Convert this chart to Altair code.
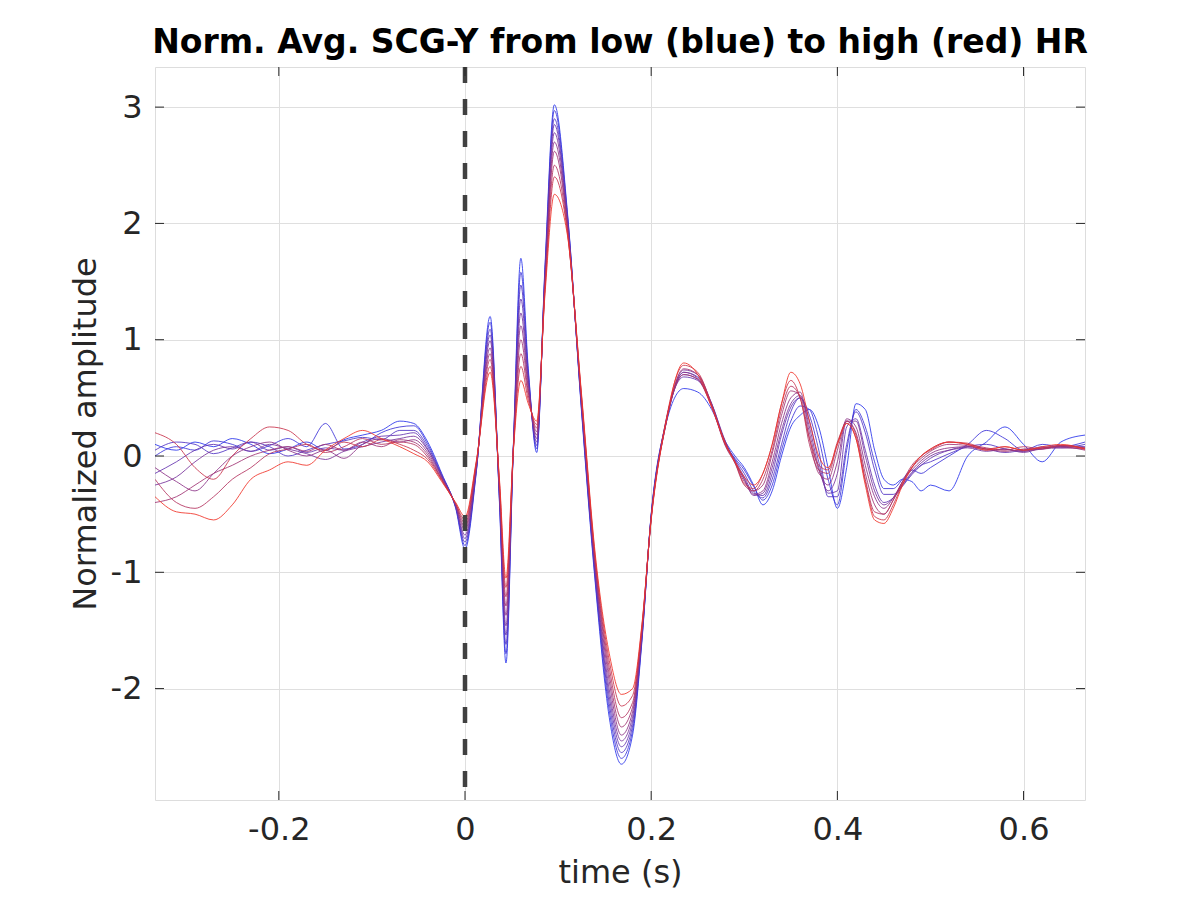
import altair as alt
import pandas as pd

# time grid (s)
T = [-0.333, -0.31, -0.29, -0.27, -0.25, -0.23, -0.21, -0.19, -0.17, -0.15, -0.13, -0.11, -0.09, -0.07, -0.055,
     -0.04, -0.025, -0.01, 0.0, 0.012, 0.027, 0.037, 0.044, 0.052, 0.060, 0.068, 0.077, 0.086, 0.096, 0.11,
     0.125, 0.14, 0.155, 0.168, 0.18, 0.19, 0.2, 0.215, 0.235, 0.25, 0.265, 0.28,
     0.29, 0.30, 0.31, 0.32, 0.33, 0.34, 0.35, 0.36, 0.37, 0.38, 0.39, 0.40, 0.41, 0.42, 0.43, 0.44, 0.45,
     0.46, 0.47, 0.48, 0.49, 0.50,
     0.52, 0.54, 0.56, 0.58, 0.60, 0.62, 0.64, 0.666]

# normalized averaged SCG-Y, from low HR (blue) to high HR (red)
line_00 = [0.10, 0.05, 0.12, 0.08, 0.15, 0.10, 0.02, 0.06, 0.12, 0.05, 0.14, 0.18, 0.22, 0.30, 0.28,
           0.12, -0.15, -0.45, -0.80, -0.15, 1.20, -0.40, -1.78, 0.10, 1.70, 0.75, 0.03, 1.65, 3.02, 2.10,
           0.40, -1.10, -2.25, -2.65, -2.40, -1.60, -0.50, 0.25, 0.58, 0.55, 0.40, 0.12,
           0.00, -0.10, -0.25, -0.42, -0.30, 0.00, 0.25, 0.35, 0.40, 0.25, -0.10, -0.45, -0.10, 0.45, 0.40, 0.05, -0.20,
           -0.25, -0.20, -0.22, -0.30, -0.25,
           -0.30, 0.00, 0.12, 0.25, 0.10, -0.05, 0.12, 0.18]
line_01 = [0.00, 0.08, 0.05, 0.13, 0.10, 0.04, 0.09, 0.15, 0.08, 0.28, 0.06, 0.10, 0.20, 0.25, 0.26,
           0.10, -0.16, -0.44, -0.77, -0.14, 1.15, -0.38, -1.70, 0.09, 1.58, 0.72, 0.06, 1.62, 2.97, 2.08,
           0.42, -1.07, -2.19, -2.60, -2.36, -1.58, -0.51, 0.26, 0.70, 0.66, 0.44, 0.10,
           -0.02, -0.12, -0.26, -0.38, -0.25, 0.05, 0.30, 0.43, 0.40, 0.15, -0.20, -0.42, 0.05, 0.40, 0.25, -0.05, -0.28,
           -0.28, -0.20, -0.12, -0.15, -0.10,
           0.00, 0.10, 0.22, 0.15, 0.05, 0.10, 0.08, 0.12]
line_02 = [0.05, 0.12, 0.10, 0.02, 0.07, 0.12, 0.08, 0.00, 0.05, 0.10, 0.13, 0.16, 0.14, 0.22, 0.22,
           0.08, -0.17, -0.44, -0.74, -0.13, 1.09, -0.36, -1.62, 0.09, 1.47, 0.68, 0.09, 1.59, 2.90, 2.06,
           0.43, -1.04, -2.13, -2.55, -2.32, -1.57, -0.51, 0.24, 0.72, 0.68, 0.45, 0.11,
           -0.03, -0.15, -0.30, -0.36, -0.20, 0.10, 0.38, 0.50, 0.35, 0.05, -0.35, -0.35, 0.10, 0.38, 0.20, -0.12, -0.33,
           -0.33, -0.25, -0.15, -0.08, -0.05,
           0.02, 0.08, 0.10, 0.06, 0.04, 0.08, 0.07, 0.10]
line_03 = [-0.15, -0.05, 0.05, 0.10, 0.06, 0.12, 0.05, 0.08, 0.03, 0.07, 0.05, 0.12, 0.17, 0.18, 0.20,
           0.06, -0.17, -0.43, -0.71, -0.12, 1.04, -0.33, -1.54, 0.08, 1.35, 0.65, 0.12, 1.57, 2.85, 2.03,
           0.45, -1.02, -2.07, -2.50, -2.28, -1.55, -0.52, 0.27, 0.68, 0.65, 0.43, 0.09,
           -0.04, -0.18, -0.32, -0.34, -0.15, 0.18, 0.42, 0.50, 0.30, -0.05, -0.32, -0.30, 0.25, 0.32, 0.05, -0.25, -0.40,
           -0.36, -0.26, -0.16, -0.08, -0.02,
           0.05, 0.08, 0.06, 0.03, 0.05, 0.06, 0.09, 0.08]
line_04 = [-0.25, -0.18, -0.05, 0.05, 0.08, 0.04, 0.10, 0.06, 0.02, -0.03, 0.04, 0.08, 0.12, 0.15, 0.17,
           0.05, -0.18, -0.43, -0.68, -0.11, 0.99, -0.31, -1.46, 0.08, 1.23, 0.62, 0.15, 1.54, 2.78, 2.01,
           0.47, -0.99, -2.01, -2.45, -2.24, -1.53, -0.52, 0.25, 0.74, 0.70, 0.45, 0.12,
           -0.05, -0.20, -0.34, -0.32, -0.10, 0.22, 0.45, 0.52, 0.25, -0.10, -0.30, -0.15, 0.30, 0.30, 0.00, -0.30, -0.42,
           -0.36, -0.24, -0.14, -0.06, 0.00,
           0.05, 0.07, 0.04, 0.06, 0.03, 0.07, 0.08, 0.07]
line_05 = [-0.10, -0.22, -0.30, -0.15, 0.00, 0.08, 0.12, 0.05, 0.00, 0.05, -0.02, 0.10, 0.15, 0.12, 0.14,
           0.03, -0.19, -0.42, -0.64, -0.09, 0.93, -0.29, -1.37, 0.07, 1.12, 0.58, 0.18, 1.51, 2.70, 1.99,
           0.48, -0.96, -1.94, -2.40, -2.20, -1.52, -0.53, 0.26, 0.72, 0.67, 0.44, 0.10,
           -0.05, -0.20, -0.33, -0.30, -0.05, 0.28, 0.50, 0.55, 0.20, -0.12, -0.25, -0.05, 0.32, 0.25, -0.08, -0.35, -0.45,
           -0.36, -0.22, -0.12, -0.04, 0.02,
           0.07, 0.08, 0.05, 0.06, 0.04, 0.06, 0.07, 0.06]
line_06 = [-0.40, -0.35, -0.25, -0.15, -0.08, 0.00, 0.05, 0.08, 0.04, 0.10, 0.05, 0.12, 0.08, 0.14, 0.12,
           0.01, -0.20, -0.42, -0.61, -0.08, 0.88, -0.27, -1.29, 0.07, 1.00, 0.55, 0.21, 1.48, 2.62, 1.97,
           0.50, -0.93, -1.88, -2.33, -2.16, -1.50, -0.53, 0.24, 0.75, 0.70, 0.43, 0.08,
           -0.06, -0.22, -0.30, -0.25, 0.02, 0.35, 0.56, 0.52, 0.15, -0.15, -0.20, 0.05, 0.30, 0.20, -0.15, -0.42, -0.50,
           -0.38, -0.22, -0.10, -0.02, 0.04,
           0.10, 0.09, 0.06, 0.04, 0.06, 0.07, 0.08, 0.05]
line_07 = [-0.20, -0.40, -0.45, -0.35, -0.20, -0.10, 0.02, 0.06, 0.10, 0.03, 0.08, 0.15, 0.10, 0.12, 0.10,
           -0.01, -0.20, -0.41, -0.58, -0.07, 0.83, -0.24, -1.21, 0.06, 0.88, 0.52, 0.24, 1.46, 2.50, 1.94,
           0.52, -0.91, -1.82, -2.25, -2.12, -1.48, -0.54, 0.25, 0.70, 0.66, 0.42, 0.11,
           -0.06, -0.25, -0.30, -0.20, 0.05, 0.40, 0.60, 0.50, 0.10, -0.12, -0.15, 0.10, 0.30, 0.18, -0.20, -0.48, -0.50,
           -0.38, -0.22, -0.08, 0.00, 0.06,
           0.12, 0.10, 0.07, 0.05, 0.08, 0.06, 0.09, 0.07]
line_08 = [0.20, 0.10, -0.10, -0.20, 0.00, 0.15, 0.25, 0.22, 0.10, 0.05, 0.12, 0.08, 0.14, 0.10, 0.05,
           -0.03, -0.21, -0.41, -0.55, -0.06, 0.77, -0.22, -1.13, 0.06, 0.77, 0.48, 0.27, 1.43, 2.40, 1.92,
           0.53, -0.88, -1.76, -2.15, -2.06, -1.47, -0.54, 0.27, 0.78, 0.72, 0.44, 0.09,
           -0.05, -0.24, -0.28, -0.15, 0.10, 0.45, 0.65, 0.50, 0.15, -0.08, -0.12, 0.12, 0.28, 0.15, -0.22, -0.52, -0.55,
           -0.42, -0.24, -0.10, 0.00, 0.05,
           0.12, 0.11, 0.06, 0.08, 0.05, 0.07, 0.09, 0.06]
line_09 = [-0.35, -0.48, -0.50, -0.55, -0.42, -0.20, -0.12, -0.05, -0.08, 0.05, 0.15, 0.22, 0.15, 0.08, 0.02,
           -0.05, -0.22, -0.40, -0.52, -0.05, 0.72, -0.20, -1.05, 0.05, 0.65, 0.45, 0.30, 1.40, 2.25, 1.90,
           0.55, -0.85, -1.70, -2.05, -2.00, -1.45, -0.55, 0.25, 0.80, 0.70, 0.42, 0.10,
           -0.05, -0.18, -0.25, -0.15, 0.10, 0.45, 0.72, 0.62, 0.30, 0.00, -0.10, 0.10, 0.28, 0.15, -0.25, -0.55, -0.58,
           -0.45, -0.25, -0.10, 0.00, 0.06,
           0.12, 0.10, 0.05, 0.08, 0.05, 0.08, 0.10, 0.06]

LINES = [line_00, line_01, line_02, line_03, line_04, line_05, line_06, line_07, line_08, line_09]
COLORS = ["#2832eb", "#3c32d7", "#5032c3", "#6432af", "#78329b", "#8c3287", "#a03273", "#b4325f", "#c8324b", "#f03228"]
X_TICKS = [-0.2, 0, 0.2, 0.4, 0.6]
Y_TICKS = [-2, -1, 0, 1, 2, 3]
X_DOMAIN = [-0.333, 0.666]
Y_DOMAIN = [-2.958, 3.345]

W, H = 930, 733
FONT = "DejaVu Sans"
INK = "#262626"

rows = []
for k, vals in enumerate(LINES):
    assert len(vals) == len(T), (k, len(vals))
    for t, v in zip(T, vals):
        rows.append({"t": t, "v": v, "s": f"L{k:02d}"})
df = pd.DataFrame(rows)
ids = [f"L{k:02d}" for k in range(len(LINES))]

xs = alt.Scale(domain=X_DOMAIN, nice=False, zero=False)
ys = alt.Scale(domain=Y_DOMAIN, nice=False, zero=False)

fix_minus = "replace(datum.label, '\u2212', '-')"

x_axis = alt.Axis(values=X_TICKS, format=".1~f", title="time (s)", grid=True, gridColor="#dfdfdf", gridWidth=1,
                  ticks=False, domain=False, labelFont=FONT, labelFontSize=32, labelColor=INK,
                  labelPadding=14, titleFont=FONT, titleFontSize=32, titleFontWeight="normal",
                  titleColor=INK, titlePadding=12, labelExpr=fix_minus)
y_axis = alt.Axis(values=Y_TICKS, format=".1~f", title="Normalized amplitude", grid=True, gridColor="#dfdfdf",
                  gridWidth=1, ticks=False, domain=False, labelFont=FONT, labelFontSize=32, labelColor=INK,
                  labelPadding=13, titleFont=FONT, titleFontSize=32, titleFontWeight="normal",
                  titleColor=INK, titlePadding=8, labelExpr=fix_minus)

lines = alt.Chart(df).mark_line(interpolate="monotone", strokeWidth=1.0, opacity=0.85, clip=True).encode(
    x=alt.X("t:Q", scale=xs, axis=x_axis),
    y=alt.Y("v:Q", scale=ys, axis=y_axis),
    color=alt.Color("s:N", scale=alt.Scale(domain=ids, range=COLORS), legend=None),
    order=alt.Order("t:Q"),
)

zero_line = alt.Chart(pd.DataFrame({"t": [0.0]})).mark_rule(
    color="#404040", strokeWidth=4.5, strokeDash=[16, 16]).encode(x=alt.X("t:Q", scale=xs))

xt = pd.DataFrame({"t": X_TICKS})
yt = pd.DataFrame({"v": Y_TICKS})
tick_style = dict(color=INK, strokeWidth=1)
tb = alt.Chart(xt).mark_rule(**tick_style).encode(x=alt.X("t:Q", scale=xs), y=alt.value(H), y2=alt.value(H - 9))
tt = alt.Chart(xt).mark_rule(**tick_style).encode(x=alt.X("t:Q", scale=xs), y=alt.value(0), y2=alt.value(9))
tl = alt.Chart(yt).mark_rule(**tick_style).encode(y=alt.Y("v:Q", scale=ys), x=alt.value(0), x2=alt.value(9))
tr = alt.Chart(yt).mark_rule(**tick_style).encode(y=alt.Y("v:Q", scale=ys), x=alt.value(W), x2=alt.value(W - 9))

chart = alt.layer(lines, zero_line, tb, tt, tl, tr).properties(
    width=W, height=H,
    title=alt.TitleParams("Norm. Avg. SCG-Y from low (blue) to high (red) HR", font=FONT, fontSize=33,
                          fontWeight="bold", color="#000000", offset=5, anchor="middle"),
    autosize=alt.AutoSizeParams(type="none"),
    padding={"left": 155, "top": 67, "right": 115, "bottom": 100},
).configure_view(stroke=INK, strokeWidth=1).configure(background="white")

chart.save("out.html", embed_options={"renderer": "svg", "actions": False})
